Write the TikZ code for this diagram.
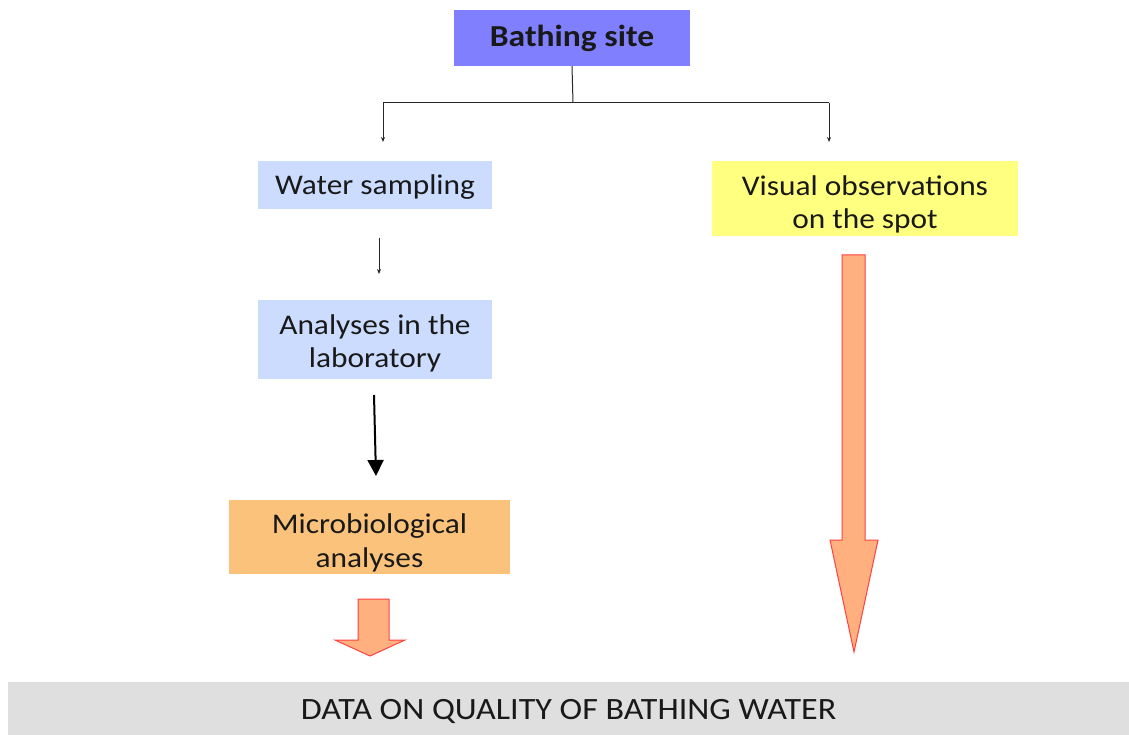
\documentclass[tikz,border=0pt]{standalone}
\usepackage{fontspec}
\setmainfont{Carlito}[FakeStretch=1.1]
\usetikzlibrary{arrows.meta}
\definecolor{sitefill}{HTML}{8080FF}
\definecolor{bluefill}{HTML}{CCDCFF}
\definecolor{yelfill}{HTML}{FFFF80}
\definecolor{orfill}{HTML}{FAC27A}
\definecolor{arfill}{HTML}{FFB07E}
\definecolor{arline}{HTML}{FF4040}
\definecolor{barfill}{HTML}{DFDFDF}
\tikzset{
  box/.style={rectangle, inner sep=0pt},
  txt/.style={inner sep=0pt, align=center, font=\fontsize{28.5}{33.5}\selectfont, text=black!90},
  thinarrow/.style={draw=black!85, line width=0.8pt, -{Stealth[length=5pt,width=4pt]}},
  blockarrow/.style={fill=arfill, draw=arline, line width=1pt, line join=miter},
}
\begin{document}
\begin{tikzpicture}[x=1pt,y=-1pt]
\useasboundingbox (0,0) rectangle (1129,735);
% boxes
\node[box, fill=sitefill, minimum width=236, minimum height=56] (site) at (572,38) {};
\node[box, fill=bluefill, minimum width=234, minimum height=48] (water) at (375,185) {};
\node[box, fill=bluefill, minimum width=234, minimum height=79] (lab) at (375,339.5) {};
\node[box, fill=orfill, minimum width=281, minimum height=74] (micro) at (369.5,537) {};
\node[box, fill=yelfill, minimum width=306, minimum height=75] (visual) at (865,198.5) {};
\node[box, fill=barfill, minimum width=1121, minimum height=53] (data) at (568.5,708.5) {};
% texts
\node[txt, font=\fontsize{30.5}{34}\selectfont\bfseries] (sitet) at (site.center) {Bathing site};
\node[txt] (watert) at ([yshift=-2pt]water.center) {Water sampling};
\node[txt] (labt) at ([yshift=-4pt]lab.center) {Analyses in the\\laboratory};
\node[txt] (microt) at ([yshift=-6pt]micro.center) {Microbiological\\analyses};
\node[txt] (visualt) at ([yshift=-6pt]visual.center) {Visual observations\\on the spot};
\node[txt, font=\fontsize{31}{34}\selectfont] (datat) at ([yshift=-3pt]data.center) {DATA ON QUALITY OF BATHING WATER};
% tree connector
\coordinate (split) at (573,103);
\coordinate (lt) at (383,103);
\coordinate (rt) at (829,103);
\coordinate (lend) at (383,142);
\coordinate (rend) at (829,142);
\draw[black!85, line width=1pt] (site.south) -- (split);
\draw[black!85, line width=1pt] (lt) -- (rt);
\draw[thinarrow] (lt) -- (lend);
\draw[thinarrow] (rt) -- (rend);
% water -> lab
\coordinate (w1) at (379,238);
\coordinate (w2) at (379,274);
\draw[thinarrow] (w1) -- (w2);
% lab -> micro
\coordinate (l1) at (374,395);
\coordinate (l2) at (376,476);
\draw[black, line width=2pt, -{Triangle[length=16pt,width=16pt]}] (l1) -- (l2);
% block arrows
\draw[blockarrow] (358,599) -- (389,599) -- (389,640) -- (405,640) -- (370,656) -- (335,640) -- (358,640) -- cycle;
\draw[blockarrow] (842,255) -- (865,255) -- (865,540) -- (878,540) -- (854,652) -- (830,540) -- (842,540) -- cycle;
\end{tikzpicture}
\end{document}
